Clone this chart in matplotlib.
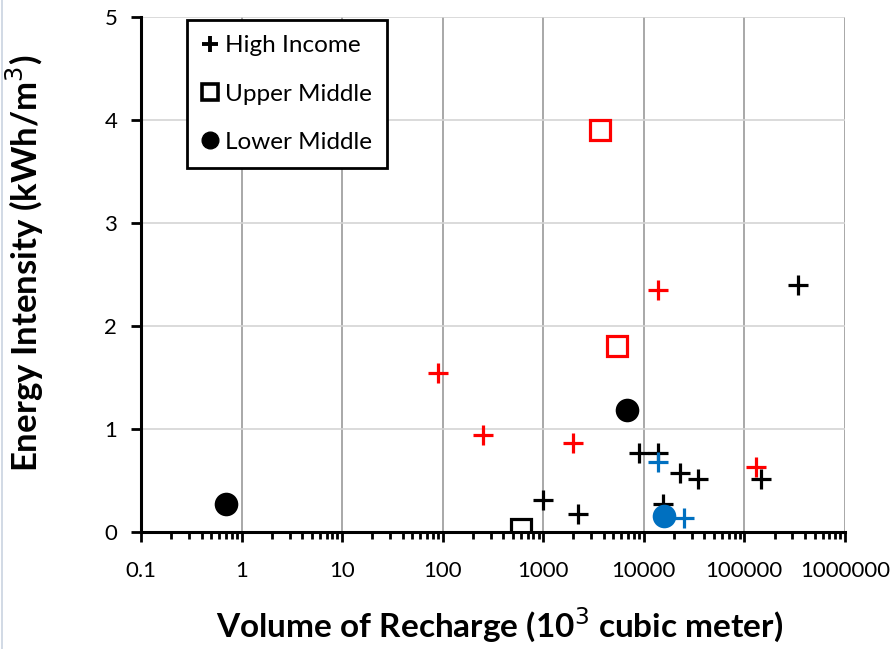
import matplotlib
matplotlib.use("Agg")
import matplotlib.pyplot as plt
from matplotlib.lines import Line2D
from matplotlib.ticker import LogLocator, FixedLocator, NullFormatter

plt.rcParams['font.family'] = ['Lato', 'DejaVu Sans']

# Volume of recharge (10^3 m^3) and energy intensity (kWh/m^3) by income group
high_black_x = [1000, 2200, 9000, 14000, 15500, 23000, 35000, 148000, 345000]
high_black_y = [0.31, 0.17, 0.76, 0.76, 0.27, 0.57, 0.51, 0.51, 2.40]
high_red_x = [90, 250, 2000, 14000, 130000]
high_red_y = [1.54, 0.94, 0.86, 2.35, 0.63]
high_blue_x = [14000, 25000]
high_blue_y = [0.68, 0.13]

upper_black_x = [600]
upper_black_y = [0.03]
upper_red_x = [3700, 5400]
upper_red_y = [3.90, 1.80]

lower_black_x = [0.7, 6800]
lower_black_y = [0.27, 1.18]
lower_blue_x = [15800]
lower_blue_y = [0.15]

x_ticks = [0.1, 1, 10, 100, 1000, 10000, 100000, 1000000]
x_tick_labels = ["0.1", "1", "10", "100", "1000", "10000", "100000", "1000000"]
y_ticks = [0, 1, 2, 3, 4, 5]

legend_labels = ["High Income", "Upper Middle", "Lower Middle"]

RED = "#FF0000"
BLUE = "#0070C0"
BLACK = "#000000"

fig = plt.figure(figsize=(8.95, 6.49), dpi=100)
ax = fig.add_axes([0.1575, 0.1807, 0.944 - 0.1575, 0.9743 - 0.1807])

# thin frame line along the left edge of the figure
fig.add_artist(Line2D([0.002, 0.002], [0, 1], transform=fig.transFigure,
                      color="#c9d3e0", linewidth=1.2))

plus_kw = dict(marker="+", linestyle="none", markersize=15, markeredgewidth=2.3)
square_kw = dict(marker="s", linestyle="none", markersize=15, markeredgewidth=2.3,
                 markerfacecolor="none")
circle_kw = dict(marker="o", linestyle="none", markersize=17, markeredgewidth=0)

ax.plot(high_red_x, high_red_y, color=RED, zorder=3, **plus_kw)
ax.plot(high_black_x, high_black_y, color=BLACK, zorder=4, **plus_kw)
ax.plot(high_blue_x, high_blue_y, color=BLUE, zorder=5, **plus_kw)

ax.plot(upper_black_x, upper_black_y, markeredgecolor=BLACK, zorder=4, **square_kw)
ax.plot(upper_red_x, upper_red_y, markeredgecolor=RED, zorder=4, **square_kw)

ax.plot(lower_black_x, lower_black_y, color=BLACK, zorder=4, **circle_kw)
ax.plot(lower_blue_x, lower_blue_y, color=BLUE, zorder=6, **circle_kw)

ax.set_xscale("log")
ax.set_xlim(0.1, 1000000)
ax.set_ylim(0, 5)

ax.xaxis.set_major_locator(FixedLocator(x_ticks))
ax.set_xticklabels(x_tick_labels)
ax.xaxis.set_minor_locator(LogLocator(base=10, subs=range(2, 10), numticks=20))
ax.xaxis.set_minor_formatter(NullFormatter())
ax.set_yticks(y_ticks)

ax.tick_params(axis="x", which="major", direction="out", length=7, width=2,
               labelsize=16, pad=14, colors=BLACK)
ax.tick_params(axis="x", which="minor", direction="out", length=5, width=2)
ax.tick_params(axis="y", which="major", direction="out", length=7, width=2,
               labelsize=16, pad=10)

for side in ("top", "right"):
    ax.spines[side].set_visible(False)
for side in ("left", "bottom"):
    ax.spines[side].set_linewidth(2.2)
    ax.spines[side].set_color(BLACK)

ax.grid(axis="x", which="major", color="#9a9a9a", linewidth=1.2)
ax.grid(axis="y", which="major", color="#d4d4d4", linewidth=1.2)
ax.set_axisbelow(True)

xl = ax.set_xlabel("Volume of Recharge (10$^{3}$ cubic meter)", fontsize=24,
                   fontweight="bold")
xl.set_verticalalignment("center")
ax.xaxis.set_label_coords(0.51, -0.181)

yl = ax.set_ylabel("Energy Intensity (kWh/m$^{3}$)", fontsize=25,
                   fontweight="bold")
yl.set_verticalalignment("center")
ax.yaxis.set_label_coords(-0.165, 0.521)

handles = [
    Line2D([], [], color=BLACK, marker="+", linestyle="none", markersize=12,
           markeredgewidth=2.8),
    Line2D([], [], color=BLACK, marker="s", linestyle="none", markersize=12,
           markeredgewidth=2.6, markerfacecolor="none"),
    Line2D([], [], color=BLACK, marker="o", linestyle="none", markersize=12),
]
leg = ax.legend(handles, legend_labels, loc="upper left",
                bbox_to_anchor=(0.063, 0.996), fontsize=17.5, frameon=True,
                fancybox=False, edgecolor=BLACK, framealpha=1,
                handlelength=0.7, handletextpad=0.25, labelspacing=1.12,
                borderpad=0.63, borderaxespad=0.05)
leg.get_frame().set_linewidth(2)

fig.savefig("out.png", dpi=100)
